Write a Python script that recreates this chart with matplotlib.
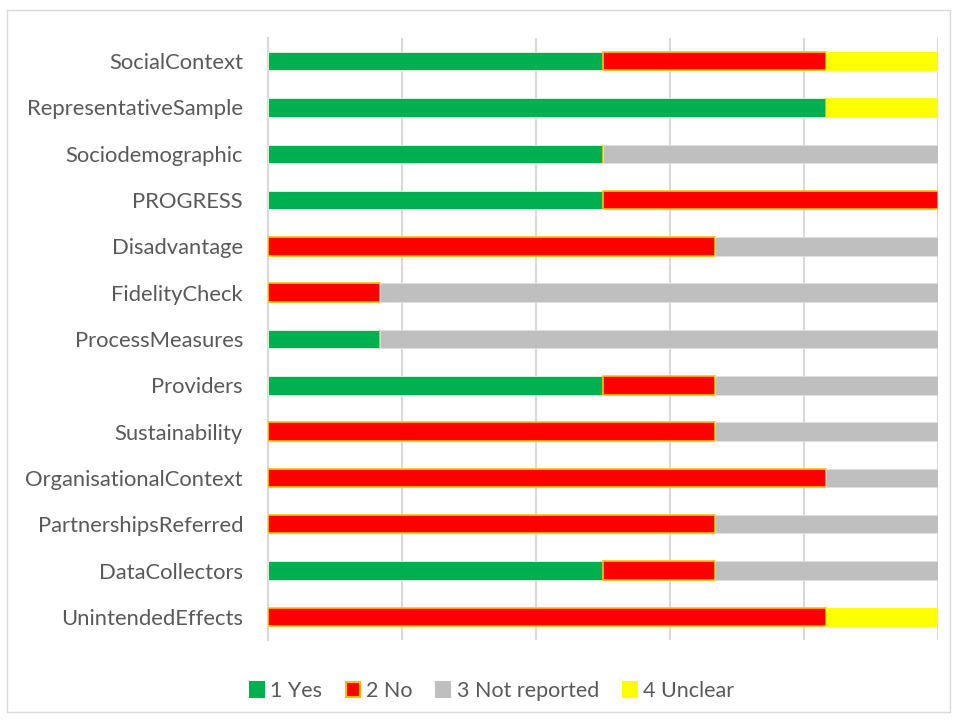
import matplotlib
matplotlib.use('Agg')
import matplotlib.pyplot as plt
import matplotlib.patches as mpatches
import numpy as np

plt.rcParams['font.family'] = ['Lato', 'DejaVu Sans']

# categories top to bottom
items = ['SocialContext', 'RepresentativeSample', 'Sociodemographic', 'PROGRESS',
         'Disadvantage', 'FidelityCheck', 'ProcessMeasures', 'Providers',
         'Sustainability', 'OrganisationalContext', 'PartnershipsReferred',
         'DataCollectors', 'UnintendedEffects']
# number of studies per answer (out of 6)
yes     = [3, 5, 3, 3, 0, 0, 1, 3, 0, 0, 0, 3, 0]
no      = [2, 0, 0, 3, 4, 1, 0, 1, 4, 5, 4, 1, 5]
notrep  = [0, 0, 3, 0, 2, 5, 5, 2, 2, 1, 2, 2, 0]
unclear = [1, 1, 0, 0, 0, 0, 0, 0, 0, 0, 0, 0, 1]
series = ['1 Yes', '2 No', '3 Not reported', '4 Unclear']
colors = ['#00B050', '#FF0000', '#BFBFBF', '#FFFF00']
edges = ['#E6F4EA', '#FFC000', '#E0E0E0', '#FFFF00']

data = np.array([yes, no, notrep, unclear], dtype=float)
pct = data / data.sum(axis=0)

fig = plt.figure(figsize=(9.58, 7.22), dpi=100)
ax = fig.add_axes([268/958, 1-640/722, 670/958, 602/722])

y = np.arange(len(items))[::-1]
left = np.zeros(len(items))
for i in range(4):
    lw = 1.2 if i == 1 else 0.6
    ax.barh(y, pct[i], left=left, height=0.4, color=colors[i],
            edgecolor=edges[i], linewidth=lw, label=series[i], zorder=3)
    left += pct[i]

ax.set_xlim(0, 1)
ax.set_ylim(-0.5, len(items)-0.5)
ax.set_xticks(np.arange(0, 1.01, 0.2))
ax.set_xticklabels([])
ax.tick_params(axis='x', length=0)
ax.tick_params(axis='y', length=0, pad=18, labelsize=15.8, labelcolor='#595959')
ax.set_yticks(y)
ax.set_yticklabels(items)
ax.grid(axis='x', color='#D9D9D9', lw=1.5, zorder=0)
for s in ['top', 'right', 'bottom']:
    ax.spines[s].set_visible(False)
ax.spines['left'].set_color('#D9D9D9')
ax.spines['left'].set_linewidth(1.5)

handles = [mpatches.Patch(facecolor=colors[i], edgecolor=edges[i] if i == 1 else colors[i],
                          linewidth=1.5, label=series[i]) for i in range(4)]
fig.legend(handles=handles, loc='center', bbox_to_anchor=(492/958, 1-691/722),
           ncol=4, frameon=False, fontsize=15.5, labelcolor='#595959',
           handlelength=0.65, handleheight=0.65, handletextpad=0.3, columnspacing=1.1)

fig.patches.append(mpatches.Rectangle((7/958, 1-712/722), 943/958, 702/722,
                                      transform=fig.transFigure, fill=False,
                                      edgecolor='#D9D9D9', lw=1))

fig.savefig('out.png', dpi=100, facecolor='white')
